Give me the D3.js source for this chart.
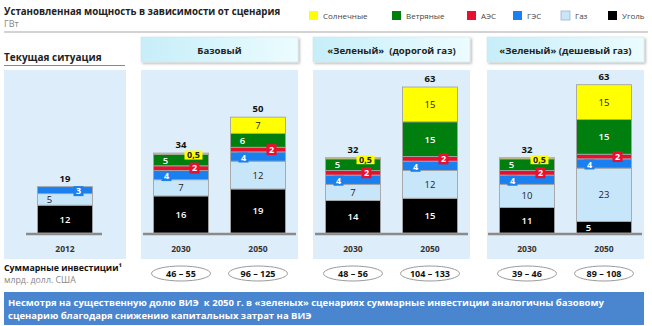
<!DOCTYPE html>
<html><head><meta charset="utf-8">
<script src="https://cdn.jsdelivr.net/npm/d3@7/dist/d3.min.js"></script>
<style>
html,body{margin:0;padding:0;background:#fff;}
svg{display:block;font-family:"Open Sans","Noto Sans",sans-serif;}
svg text{white-space:pre;}
</style></head>
<body><svg id="c" width="652" height="326"></svg>
<script>
// ---- data ----
const scenarios = ["Текущая ситуация", "Базовый", "«Зеленый»  (дорогой газ)", "«Зеленый» (дешевый газ)"];
const barScenario = [0, 1, 1, 2, 2, 3, 3];
const years = ["2012", "2030", "2050", "2030", "2050", "2030", "2050"];
const coal    = [12, 16, 19, 14, 15, 11, 5];
const gas     = [5, 7, 12, 7, 12, 10, 23];
const hydro   = [3, 4, 4, 4, 4, 4, 4];
const nuclear = [0, 2, 2, 2, 2, 2, 2];
const wind    = [0, 5, 6, 5, 15, 5, 15];
const solar   = [0, 0.5, 7, 0.5, 15, 0.5, 15];
const totals  = [19, 34, 50, 32, 63, 32, 63];
const solarLabels = ["", "0,5", "7", "0,5", "15", "0,5", "15"];
const investments = [null, "46 – 55", "96 – 125", "48 – 56", "104 – 133", "39 – 46", "89 – 108"];
const seriesNames = ["Солнечные", "Ветряные", "АЭС", "ГЭС", "Газ", "Уголь"];
const title = "Установленная мощность в зависимости от сценария";
const unit = "ГВт";
const investTitle = "Суммарные инвестиции¹";
const investUnit = "млрд. долл. США";
const note1 = "Несмотря на существенную долю ВИЭ  к 2050 г. в «зеленых» сценариях суммарные инвестиции аналогичны базовому";
const note2 = "сценарию благодаря снижению капитальных затрат на ВИЭ";

// ---- styles ----
const colors = {"Солнечные":"#ffff00","Ветряные":"#007f0e","АЭС":"#e8102e","ГЭС":"#1a80f0","Газ":"#c8e6fa","Уголь":"#000000"};
const svg = d3.select("#c");
const defs = svg.append("defs");
const grad = defs.append("linearGradient").attr("id","hg").attr("x1","0").attr("x2","1").attr("y1","0").attr("y2","0");
grad.append("stop").attr("offset","0").attr("stop-color","#c6eef9");
grad.append("stop").attr("offset","1").attr("stop-color","#ecfcff");
const sh = defs.append("filter").attr("id","sh").attr("x","-10%").attr("y","-20%").attr("width","130%").attr("height","160%");
sh.append("feDropShadow").attr("dx",1.5).attr("dy",1.5).attr("stdDeviation",1).attr("flood-color","#000").attr("flood-opacity",0.28);

// title + unit
svg.append("text").attr("x",4).attr("y",15).attr("font-size",9.7).attr("font-weight",700).attr("fill","#222").text(title);
svg.append("text").attr("x",4).attr("y",27).attr("font-size",9).attr("fill","#888").text(unit);
svg.append("line").attr("x1",4).attr("x2",648).attr("y1",32).attr("y2",32).attr("stroke","#a8a8a8").attr("stroke-width",1.2);

// legend
const legendX = [309, 392, 467, 513, 561, 608];
seriesNames.forEach((n,i)=>{
  const g = svg.append("g").attr("transform",`translate(${legendX[i]},11)`);
  g.append("rect").attr("width",9).attr("height",9).attr("fill",colors[n]).attr("stroke", n==="Газ"?"#a0b4c4":"none").attr("stroke-width",0.8);
  g.append("text").attr("x",14).attr("y",8).attr("font-size",8).attr("fill","#444").text(n);
});

// panels
const panelX = [[4,126],[141,298],[313,470],[487,644]];
const panelTop = 70, panelBottom = 259;
panelX.forEach((p,i)=>{
  svg.append("rect").attr("x",p[0]).attr("y",panelTop).attr("width",p[1]-p[0]).attr("height",panelBottom-panelTop).attr("fill","#deedfa");
  if(i===0){
    svg.append("text").attr("x",4).attr("y",61).attr("font-size",10).attr("font-weight",700).attr("fill","#222").text(scenarios[0]);
    svg.append("line").attr("x1",4).attr("x2",125).attr("y1",65.5).attr("y2",65.5).attr("stroke","#888").attr("stroke-width",1);
  } else {
    svg.append("rect").attr("x",p[0]).attr("y",37).attr("width",p[1]-p[0]).attr("height",25)
      .attr("fill","url(#hg)").attr("stroke","#cfe3ea").attr("stroke-width",0.6).attr("filter","url(#sh)");
    svg.append("text").attr("x",(p[0]+p[1])/2).attr("y",53.5).attr("text-anchor","middle").attr("font-size",9.6).attr("font-weight",700).attr("fill","#222").text(scenarios[i]);
  }
});

// scales
const y = d3.scaleLinear().domain([0,70]).range([233, 233-70*2.317]);
const xBand = {};
panelX.forEach((p,i)=>{
  const dom = years.filter((_,j)=>barScenario[j]===i).map((yy,k)=>k);
  if(i===0) xBand[i] = d3.scaleBand().domain(dom).range([p[0],p[1]]).paddingInner(0).paddingOuter((122-55)/55/2);
  else xBand[i] = d3.scaleBand().domain(dom).range([p[0],p[1]]).paddingInner(0.2857).paddingOuter(0.162);
});
const baselineX = [[26,102],[143,296],[315,468],[488,642]];
baselineX.forEach(b=>{
  svg.append("line").attr("x1",b[0]).attr("x2",b[1]).attr("y1",y(0)+1).attr("y2",y(0)+1).attr("stroke","#8a8a8a").attr("stroke-width",2.5);
});

const order = ["Уголь","Газ","ГЭС","АЭС","Ветряные","Солнечные"];
const vals = {"Уголь":coal,"Газ":gas,"ГЭС":hydro,"АЭС":nuclear,"Ветряные":wind,"Солнечные":solar};
const rows = years.map((yy,i)=>{const r={i}; order.forEach(k=>r[k]=vals[k][i]); return r;});
const stacked = d3.stack().keys(order)(rows);

const barX = i => {const s=barScenario[i]; const k=barScenario.slice(0,i).filter(v=>v===s).length; return xBand[s](k);};
const bw = i => xBand[barScenario[i]].bandwidth();

stacked.forEach(layer=>{
  const key = layer.key;
  layer.forEach((d,i)=>{
    if(d[1]-d[0]<=0) return;
    svg.append("rect").attr("x",barX(i)).attr("y",y(d[1])).attr("width",bw(i)).attr("height",y(d[0])-y(d[1]))
      .attr("fill",colors[key]).attr("stroke","#a4a4a4").attr("stroke-width",0.9);
  });
});

// segment labels
function badge(cx, cy, w, h, fill, txt, tcol){
  svg.append("rect").attr("x",cx-w/2).attr("y",cy-h/2).attr("width",w).attr("height",h).attr("fill",fill);
  svg.append("text").attr("x",cx).attr("y",cy+3.2).attr("text-anchor","middle").attr("font-size",9).attr("font-weight",700).attr("fill",tcol).text(txt);
}
stacked.forEach(layer=>{
  const key = layer.key;
  layer.forEach((d,i)=>{
    const v = d[1]-d[0];
    if(v<=0) return;
    const x0 = barX(i), x1 = x0+bw(i), cx=(x0+x1)/2;
    const top = y(d[1]), bot = y(d[0]), cy=(top+bot)/2;
    const h = bot-top;
    if(key==="ГЭС"){
      const bx = nuclear[i]>0 ? x0+13 : x1-14;
      badge(bx, cy+1, 10, 10, colors[key], String(v), "#fff");
    } else if(key==="АЭС"){
      badge(x1-14, cy, 10, 11, colors[key], String(v), "#fff");
    } else if(key==="Солнечные" && h<10){
      badge(x1-15, top+2, 18, 9, colors[key], solarLabels[i], "#222");
    } else {
      const dark = key==="Уголь"||key==="Ветряные";
      const lx = h<15 ? x0+12 : cx;
      const lbl = key==="Солнечные" ? solarLabels[i] : String(v);
      svg.append("text").attr("x",lx).attr("y",cy+3.5).attr("text-anchor","middle").attr("font-size",9.5)
        .attr("font-weight",dark?600:500).attr("fill",dark?"#fff":"#222").text(lbl);
    }
  });
});

// totals
totals.forEach((t,i)=>{
  const top = y(stacked[stacked.length-1][i][1]);
  svg.append("text").attr("x",barX(i)+bw(i)/2).attr("y",top-5).attr("text-anchor","middle").attr("font-size",9.5).attr("font-weight",700).attr("fill","#111").text(t);
});

// year labels
years.forEach((yy,i)=>{
  svg.append("text").attr("x",barX(i)+bw(i)/2).attr("y",251.5).attr("text-anchor","middle").attr("font-size",8.5).attr("font-weight",700).attr("fill","#333").text(yy);
});

// investments
svg.append("text").attr("x",4).attr("y",271).attr("font-size",8.8).attr("font-weight",700).attr("fill","#111").text(investTitle);
svg.append("text").attr("x",4).attr("y",283).attr("font-size",8.8).attr("fill","#888").text(investUnit);
investments.forEach((s,i)=>{
  if(!s) return;
  const cx = barX(i)+bw(i)/2;
  svg.append("ellipse").attr("cx",cx).attr("cy",273.5).attr("rx",29.5).attr("ry",7.5).attr("fill","#fff").attr("stroke","#9a9a9a").attr("stroke-width",1);
  svg.append("text").attr("x",cx).attr("y",277).attr("text-anchor","middle").attr("font-size",9).attr("font-weight",700).attr("fill","#111").text(s);
});

// note box
svg.append("rect").attr("x",4).attr("y",292).attr("width",640).attr("height",33).attr("fill","#4a86d0");
svg.append("text").attr("x",8).attr("y",306).attr("font-size",9.5).attr("font-weight",700).attr("fill","#fff").text(note1);
svg.append("text").attr("x",8).attr("y",319).attr("font-size",9.5).attr("font-weight",700).attr("fill","#fff").text(note2);
</script></body></html>
